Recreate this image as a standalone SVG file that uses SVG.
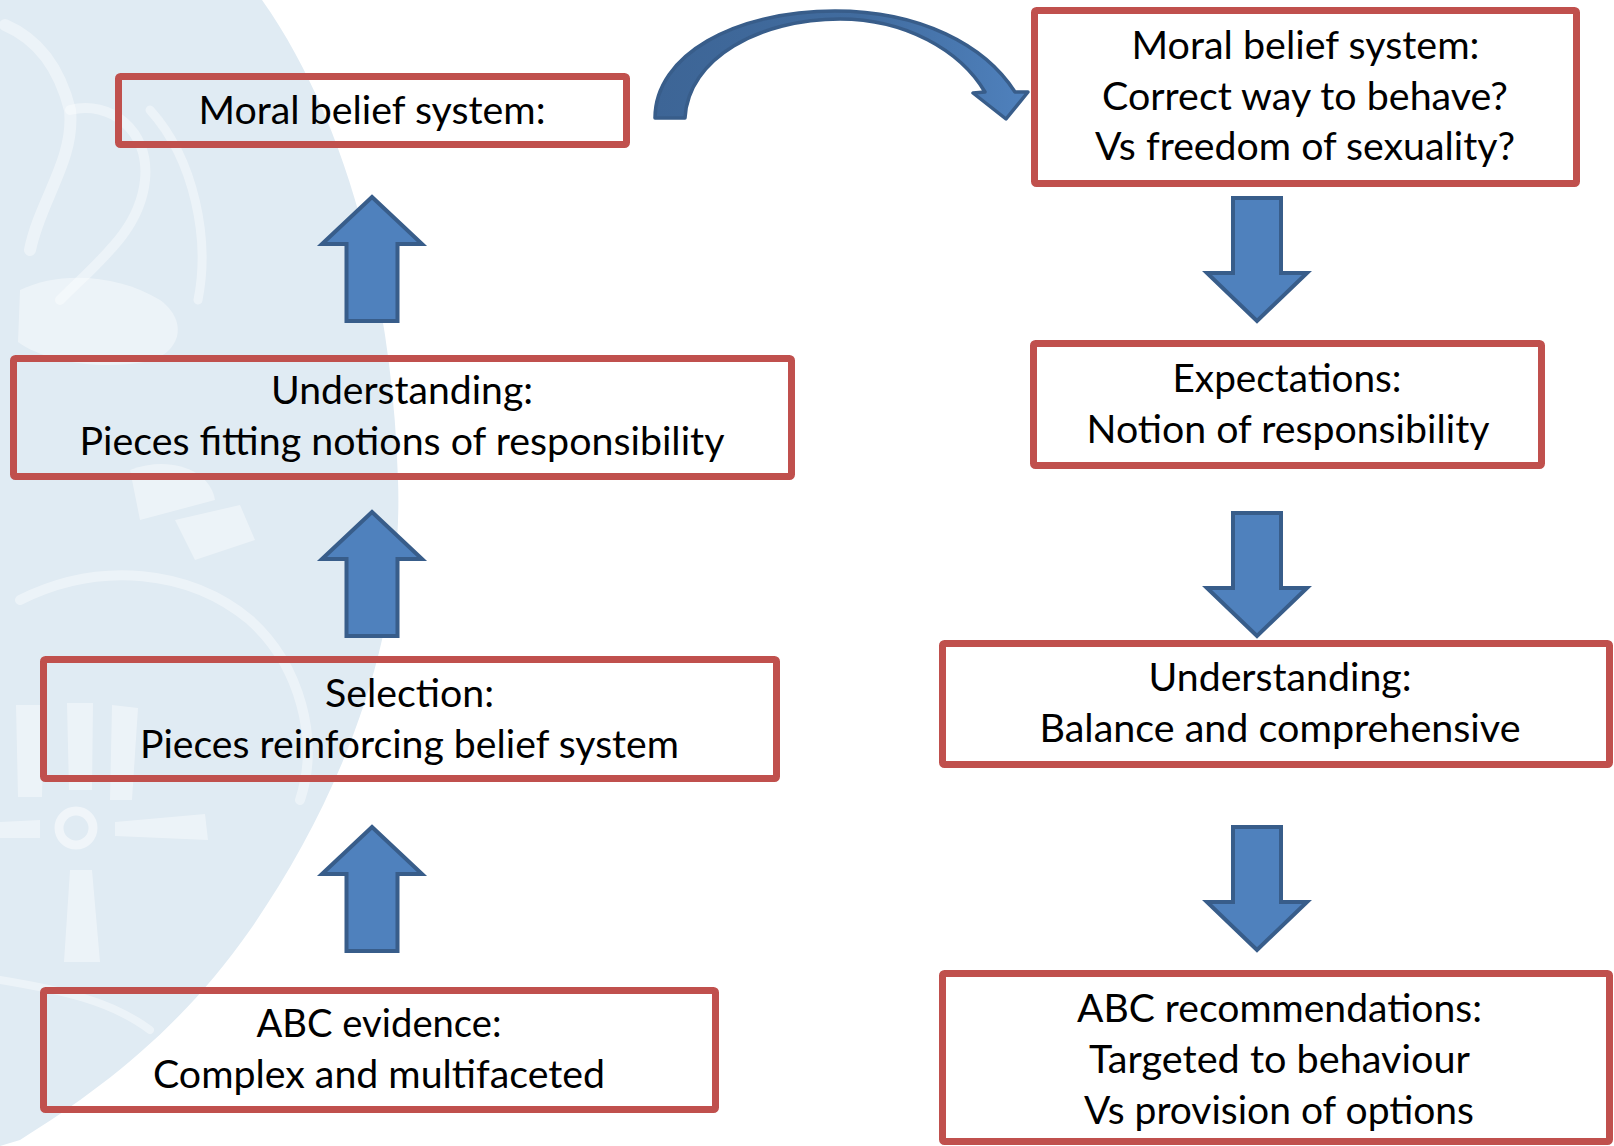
<svg xmlns="http://www.w3.org/2000/svg" width="1614" height="1146" viewBox="0 0 1614 1146">
  <defs>
    <style>
      .box { fill: none; stroke: #c0504d; stroke-width: 7; stroke-linejoin: round; }
      .blk { fill: #4f81bd; stroke: #385d8a; stroke-width: 4; stroke-linejoin: miter; }
      .t { font-family: Lato, "Open Sans", "Liberation Sans", sans-serif; font-size: 38px; fill: #000000; text-anchor: middle; }
      .wm { fill: #ffffff; opacity: 0.4; }
      .wmline { fill: none; stroke: #ffffff; opacity: 0.4; stroke-linecap: round; }
    </style>
    <linearGradient id="curveGrad" x1="0" y1="0" x2="1" y2="0">
      <stop offset="0" stop-color="#3d6596"/>
      <stop offset="0.55" stop-color="#416c9f"/>
      <stop offset="1" stop-color="#4f81bd"/>
    </linearGradient>
    <path id="upArrow" d="M 0,0 L 50,47 L 25.5,47 L 25.5,124 L -25.5,124 L -25.5,47 L -50,47 Z"/>
    <path id="downArrow" d="M -24,0 L 24,0 L 24,75 L 50,75 L 0,123 L -50,75 L -24,75 Z"/>
  </defs>

  <rect width="1614" height="1146" fill="#ffffff"/>

  <!-- watermark -->
  <g id="watermark">
    <path d="M 0,0 L 262,0 C 340,110 392,280 398,480 C 404,640 340,800 250,930 C 180,1030 100,1090 20,1140 L 0,1146 Z" fill="#e0ebf3"/>
    <path class="wmline" stroke-width="12" d="M 5,25 C 40,40 60,70 70,110 C 75,160 40,200 30,250"/>
    <path class="wmline" stroke-width="10" d="M 70,110 C 110,100 150,130 145,180 C 140,230 100,260 60,300"/>
    <path class="wm" d="M 20,290 C 60,270 120,275 160,300 C 190,322 180,355 145,362 C 100,370 45,362 18,342 Z"/>
    <path class="wmline" stroke-width="9" d="M 150,110 C 195,160 210,240 198,300"/>
    <path class="wm" d="M 130,470 C 170,455 210,470 215,500 L 140,520 Z"/>
    <path class="wmline" stroke-width="10" d="M 20,600 C 100,560 190,570 250,620 C 300,665 320,740 300,800"/>
    <path class="wm" d="M 175,520 L 240,505 L 255,540 L 195,560 Z"/>
    <!-- wheel -->
    <circle cx="76" cy="828" r="17" fill="none" stroke="#ffffff" stroke-width="9" opacity="0.5"/>
    <path class="wm" d="M 115,822 L 205,814 L 208,840 L 115,836 Z"/>
    <path class="wm" d="M 0,822 L 40,820 L 40,838 L 0,838 Z"/>
    <path class="wm" d="M 70,870 L 92,870 L 100,962 L 64,962 Z"/>
    <path class="wm" d="M 16,705 L 44,705 L 42,797 L 18,797 Z"/>
    <path class="wm" d="M 67,703 L 93,703 L 92,790 L 69,790 Z"/>
    <path class="wm" d="M 112,705 L 138,708 L 132,800 L 110,800 Z"/>
    <path class="wmline" stroke-width="8" d="M 0,980 C 60,990 110,1000 150,1030"/>
  </g>

  <!-- nodes: left column -->
  <g id="left-moral">
    <rect class="box" x="118.5" y="76.5" width="508" height="68" rx="2"/>
    <text class="t" x="372" y="124" textLength="347" lengthAdjust="spacingAndGlyphs">Moral belief system:</text>
  </g>
  <g id="left-understanding">
    <rect class="box" x="13.5" y="358.5" width="778" height="118" rx="2"/>
    <text class="t" x="402" y="404" textLength="262" lengthAdjust="spacingAndGlyphs">Understanding:</text>
    <text class="t" x="402" y="455" textLength="645" lengthAdjust="spacingAndGlyphs">Pieces fitting notions of responsibility</text>
  </g>
  <g id="left-selection">
    <rect class="box" x="43.5" y="659.5" width="733" height="119" rx="2"/>
    <text class="t" x="409.5" y="707" textLength="169" lengthAdjust="spacingAndGlyphs">Selection:</text>
    <text class="t" x="409.5" y="758" textLength="539" lengthAdjust="spacingAndGlyphs">Pieces reinforcing belief system</text>
  </g>
  <g id="left-evidence">
    <rect class="box" x="43.5" y="990.5" width="672" height="119" rx="2"/>
    <text class="t" x="379" y="1037" textLength="245" lengthAdjust="spacingAndGlyphs">ABC evidence:</text>
    <text class="t" x="379" y="1088" textLength="452" lengthAdjust="spacingAndGlyphs">Complex and multifaceted</text>
  </g>

  <!-- nodes: right column -->
  <g id="right-moral">
    <rect class="box" x="1034.5" y="10.5" width="542" height="173" rx="2"/>
    <text class="t" x="1305.5" y="59" textLength="348" lengthAdjust="spacingAndGlyphs">Moral belief system:</text>
    <text class="t" x="1305" y="110" textLength="406" lengthAdjust="spacingAndGlyphs">Correct way to behave?</text>
    <text class="t" x="1305" y="160" textLength="420" lengthAdjust="spacingAndGlyphs">Vs freedom of sexuality?</text>
  </g>
  <g id="right-expectations">
    <rect class="box" x="1033.5" y="343.5" width="508" height="122" rx="2"/>
    <text class="t" x="1287" y="392" textLength="229" lengthAdjust="spacingAndGlyphs">Expectations:</text>
    <text class="t" x="1288" y="443" textLength="403" lengthAdjust="spacingAndGlyphs">Notion of responsibility</text>
  </g>
  <g id="right-understanding">
    <rect class="box" x="942.5" y="643.5" width="667" height="121" rx="2"/>
    <text class="t" x="1280" y="691" textLength="263" lengthAdjust="spacingAndGlyphs">Understanding:</text>
    <text class="t" x="1280" y="742" textLength="481" lengthAdjust="spacingAndGlyphs">Balance and comprehensive</text>
  </g>
  <g id="right-recommendations">
    <rect class="box" x="942.5" y="973.5" width="667" height="168" rx="2"/>
    <text class="t" x="1279.5" y="1022" textLength="405" lengthAdjust="spacingAndGlyphs">ABC recommendations:</text>
    <text class="t" x="1279.5" y="1073" textLength="381" lengthAdjust="spacingAndGlyphs">Targeted to behaviour</text>
    <text class="t" x="1279" y="1124" textLength="390" lengthAdjust="spacingAndGlyphs">Vs provision of options</text>
  </g>

  <!-- connectors -->
  <g id="connectors">
    <use href="#upArrow" class="blk" x="372" y="197"/>
    <use href="#upArrow" class="blk" x="372" y="512"/>
    <use href="#upArrow" class="blk" x="372" y="827"/>
    <use href="#downArrow" class="blk" x="1257" y="198"/>
    <use href="#downArrow" class="blk" x="1257" y="513"/>
    <use href="#downArrow" class="blk" x="1257" y="827"/>
    <path d="M 655,118 C 655,55 735,11 835,11 C 920,11 985,45 1015,92 L 1028,92 L 1006,119 L 973,93 L 985,92 C 960,50 905,19 840,19 C 760,19 688,58 685,118 Z" fill="url(#curveGrad)" stroke="#385d8a" stroke-width="3.5" stroke-linejoin="round"/>
  </g>
</svg>
